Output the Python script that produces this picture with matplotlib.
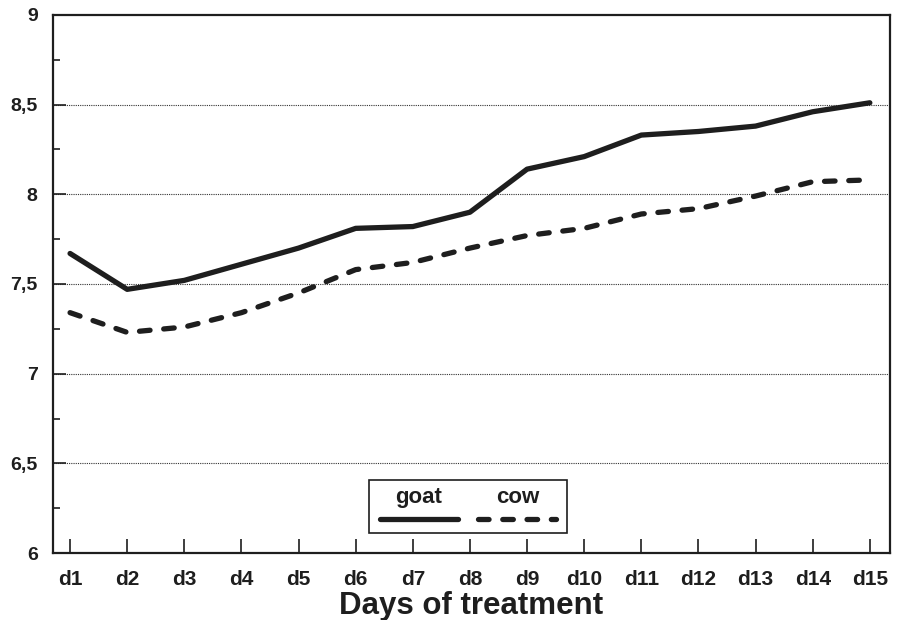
import matplotlib
matplotlib.use("Agg")
import matplotlib.pyplot as plt
from matplotlib.lines import Line2D
from matplotlib.offsetbox import TextArea, DrawingArea, VPacker, HPacker, AnchoredOffsetbox
from matplotlib.ticker import MultipleLocator, FuncFormatter

plt.rcParams['font.family'] = ['Liberation Sans', 'DejaVu Sans']

days = ['d1', 'd2', 'd3', 'd4', 'd5', 'd6', 'd7', 'd8', 'd9', 'd10', 'd11', 'd12', 'd13', 'd14', 'd15']
goat = [7.67, 7.47, 7.52, 7.61, 7.70, 7.81, 7.82, 7.90, 8.14, 8.21, 8.33, 8.35, 8.38, 8.46, 8.51]
cow = [7.34, 7.23, 7.26, 7.34, 7.45, 7.58, 7.62, 7.70, 7.77, 7.81, 7.89, 7.92, 7.99, 8.07, 8.08]

ink = '#1e1e1e'
dash = (2.0, 2.6)
x = list(range(1, len(days) + 1))

fig = plt.figure(figsize=(8.97, 6.2), dpi=100)
ax = fig.add_axes([0.059, 0.108, 0.933, 0.868])

# dotted horizontal grid at the half units
for v in [6.5, 7, 7.5, 8, 8.5]:
    ax.axhline(v, color='#333333', lw=0.8, ls=(0, (1, 1)), zorder=1)

ax.plot(x, goat, color=ink, lw=3.8, solid_capstyle='round', solid_joinstyle='round', zorder=3)
ax.plot(x, cow, color=ink, lw=3.8, dashes=dash, dash_capstyle='round', zorder=3)

ax.set_xlim(0.7, 15.35)
ax.set_ylim(6, 9)
ax.set_xticks(x)
ax.set_xticklabels(days)
ax.yaxis.set_major_locator(MultipleLocator(0.5))
ax.yaxis.set_minor_locator(MultipleLocator(0.25))
ax.yaxis.set_major_formatter(FuncFormatter(lambda v, p: ('%g' % v).replace('.', ',')))

for s in ax.spines.values():
    s.set_linewidth(1.6)
    s.set_color(ink)

ax.tick_params(axis='x', direction='in', length=10, width=1.2, color=ink, pad=12,
               labelsize=15, labelcolor=ink)
ax.tick_params(axis='y', which='major', direction='in', length=9, width=1.2, color=ink, pad=11,
               labelsize=14, labelcolor=ink)
ax.tick_params(axis='y', which='minor', direction='in', length=5, width=1.2, color=ink)
for lab in ax.get_xticklabels() + ax.get_yticklabels():
    lab.set_fontweight('bold')

ax.set_xlabel('Days of treatment', fontsize=22.5, fontweight='bold', color=ink, labelpad=2)

# legend with the label above each line sample
def entry(name, **kw):
    da = DrawingArea(62, 9, 0, 0)
    da.add_artist(Line2D([3, 59], [4.5, 4.5], color=ink, lw=3.8, **kw))
    txt = TextArea(name, textprops=dict(fontsize=16, fontweight='bold', color=ink))
    return VPacker(children=[txt, da], align='center', pad=0, sep=4)

box = HPacker(children=[entry('goat', solid_capstyle='round'),
                        entry('cow', dashes=dash, dash_capstyle='round')],
              align='center', pad=0, sep=9)
leg = AnchoredOffsetbox(loc='center', child=box, pad=0.5, borderpad=0,
                        bbox_to_anchor=(0.496, 0.087), bbox_transform=ax.transAxes, frameon=True)
leg.patch.set_edgecolor(ink)
leg.patch.set_linewidth(1.2)
leg.patch.set_boxstyle('square', pad=0)
ax.add_artist(leg)

fig.savefig('out.png', dpi=100)
